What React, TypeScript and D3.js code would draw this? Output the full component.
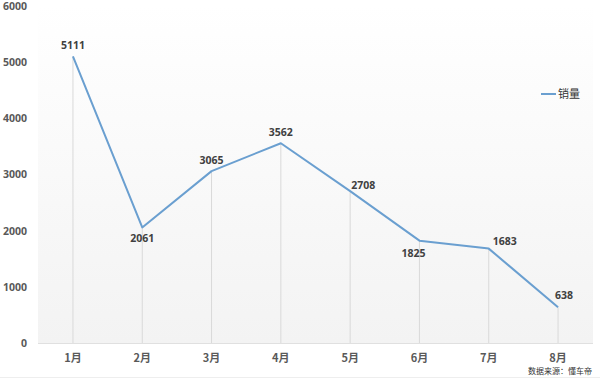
import React from "react";
import * as d3 from "d3";

const categories = ["1月", "2月", "3月", "4月", "5月", "6月", "7月", "8月"];
const sales = [5111, 2061, 3065, 3562, 2708, 1825, 1683, 638];
const yTicks = [0, 1000, 2000, 3000, 4000, 5000, 6000];
const seriesName = "销量";
const sourceText = "数据来源：懂车帝";
// label placement relative to point
const labelPlacement = ["above", "below", "above", "above", "right", "belowLeft", "aboveRight", "aboveNear"];

const W = 600;
const H = 379;

export default function App() {
  const x = d3.scaleBand<string>().domain(categories).range([38.3, 592.7]);
  const y = d3.scaleLinear().domain([0, 6000]).range([343, 6.5]);
  const cx = (c: string) => (x(c) as number) + x.bandwidth() / 2;
  const line = d3
    .line<number>()
    .x((_, i) => cx(categories[i]))
    .y((d) => y(d));

  const offsets: Record<string, [number, number]> = {
    above: [0, -7],
    below: [0, 15],
    right: [13, -2],
    belowLeft: [-6, 16],
    aboveRight: [16, -4],
    aboveNear: [6, -8],
  };

  const numFont = "'Open Sans', 'DejaVu Sans', sans-serif";
  const cjkFont = "'Noto Sans CJK SC', sans-serif";

  return (
    <svg width={W} height={H} style={{ position: "absolute", left: 0, top: 0, background: "#fff" }}>
      <defs>
        <linearGradient id="bg" x1="0" y1="0" x2="0" y2="1">
          <stop offset="0" stopColor="#ffffff" />
          <stop offset="1" stopColor="#f3f3f3" />
        </linearGradient>
      </defs>
      <rect x={38} y={5} width={555} height={338} fill="url(#bg)" />
      {/* drop lines */}
      {sales.map((v, i) => (
        <line
          key={"d" + i}
          x1={cx(categories[i])}
          x2={cx(categories[i])}
          y1={y(v)}
          y2={y(0)}
          stroke="#d9d9d9"
          strokeWidth={1}
        />
      ))}
      {/* x axis */}
      <line x1={38} x2={593} y1={y(0) + 0.5} y2={y(0) + 0.5} stroke="#e0e0e0" strokeWidth={1} />
      {/* y tick labels */}
      {yTicks.map((t) => (
        <text
          key={"y" + t}
          x={27}
          y={y(t)}
          dy="0.35em"
          textAnchor="end"
          fontFamily={numFont}
          fontWeight="bold"
          fontSize={10.5}
          fill="#595959"
        >
          {t}
        </text>
      ))}
      {/* x labels */}
      {categories.map((c) => (
        <text
          key={"x" + c}
          x={cx(c)}
          y={362}
          textAnchor="middle"
          fontFamily={cjkFont}
          fontWeight="bold"
          fontSize={11}
          fill="#595959"
        >
          {c}
        </text>
      ))}
      {/* line */}
      <path d={line(sales) || ""} fill="none" stroke="#6a9fd0" strokeWidth={2} strokeLinejoin="round" />
      {/* data labels */}
      {sales.map((v, i) => {
        const [dx, dy] = offsets[labelPlacement[i]];
        return (
          <text
            key={"l" + i}
            x={cx(categories[i]) + dx}
            y={y(v) + dy}
            textAnchor="middle"
            fontFamily={numFont}
            fontWeight="bold"
            fontSize={10.5}
            fill="#404040"
          >
            {v}
          </text>
        );
      })}
      {/* legend */}
      <line x1={541} x2={556} y1={94} y2={94} stroke="#6a9fd0" strokeWidth={2} />
      <text x={558} y={94} dy="0.35em" fontFamily={cjkFont} fontSize={11} fill="#333">
        {seriesName}
      </text>
      {/* source */}
      <text x={592} y={374} textAnchor="end" fontFamily={cjkFont} fontSize={8} fill="#333">
        {sourceText}
      </text>
      <line x1={0} x2={W} y1={377.5} y2={377.5} stroke="#eeeeee" strokeWidth={1} />
    </svg>
  );
}
